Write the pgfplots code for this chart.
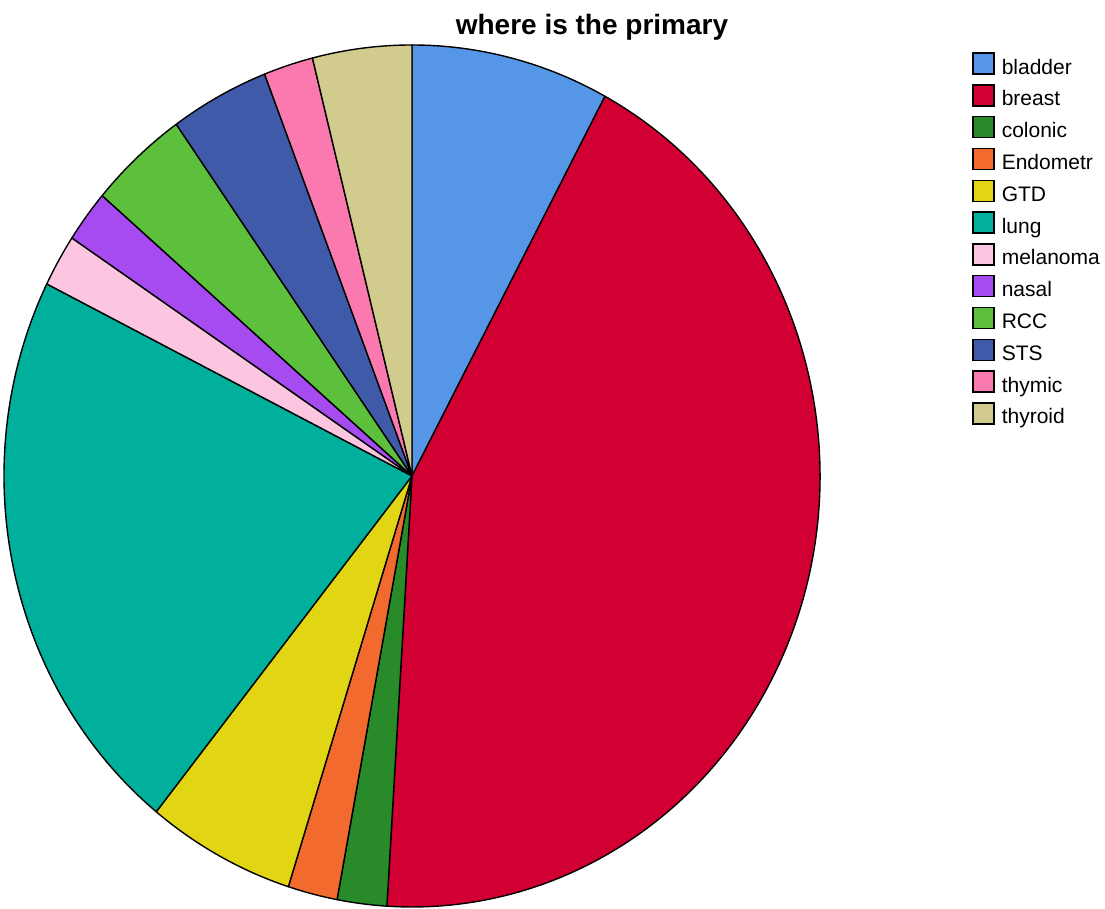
\documentclass[border=0pt]{standalone}
\usepackage{fontspec}
\setmainfont{Liberation Sans}
\usepackage{pgfplots}
\usepackage{pgfplotstable}
\pgfplotsset{compat=1.18}

\definecolor{cbladder}{RGB}{85,150,230}
\definecolor{cbreast}{RGB}{210,0,50}
\definecolor{ccolonic}{RGB}{40,138,40}
\definecolor{cendometr}{RGB}{242,106,46}
\definecolor{cgtd}{RGB}{226,214,20}
\definecolor{clung}{RGB}{0,176,156}
\definecolor{cmelanoma}{RGB}{252,198,224}
\definecolor{cnasal}{RGB}{166,75,240}
\definecolor{crcc}{RGB}{92,192,60}
\definecolor{csts}{RGB}{64,90,170}
\definecolor{cthymic}{RGB}{250,122,176}
\definecolor{cthyroid}{RGB}{210,203,142}

% counts, clockwise from 12 o'clock
\pgfplotstableread{
label    value color
bladder  4  cbladder
breast   22 cbreast
colonic  1  ccolonic
Endometr 1  cendometr
GTD      3  cgtd
lung     11 clung
melanoma 1  cmelanoma
nasal    1  cnasal
RCC      2  crcc
STS      2  csts
thymic   1  cthymic
thyroid  2  cthyroid
}\piedata

\begin{document}
\begin{tikzpicture}
\begin{axis}[
  width=552.5pt, height=454.5pt, scale only axis,
  xmin=0, xmax=1105, ymin=0, ymax=909,
  hide axis, clip=false,
  legend cell align=left,
  legend image code/.code={\draw[#1] (0pt,-2pt) rectangle (10.5pt,8.5pt);},
  legend style={at={(axis cs:972,857)}, anchor=north west, draw=none, fill=none,
    inner sep=0pt, row sep=0pt, font=\fontsize{10.5}{12}\selectfont,
    nodes={inner sep=0pt, text height=9.1pt, text depth=5pt},
    /tikz/every odd column/.append style={column sep=3.5pt}},
]
\pgfplotstablegetrowsof{\piedata}
\pgfmathtruncatemacro\pieN{\pgfplotsretval-1}
\def\pieTotal{0}
\pgfplotsforeachungrouped \i in {0,...,\pieN}{
  \pgfplotstablegetelem{\i}{value}\of\piedata
  \pgfmathsetmacro\pieTotal{\pieTotal+\pgfplotsretval}
}
\def\pieCum{0}
\pgfplotsforeachungrouped \i in {0,...,\pieN}{
  \pgfplotstablegetelem{\i}{value}\of\piedata \let\pieV\pgfplotsretval
  \pgfplotstablegetelem{\i}{color}\of\piedata \let\pieC\pgfplotsretval
  \pgfplotstablegetelem{\i}{label}\of\piedata \let\pieL\pgfplotsretval
  \pgfmathsetmacro\pieA{90-\pieCum/\pieTotal*360}
  \pgfmathsetmacro\pieB{90-(\pieCum+\pieV)/\pieTotal*360}
  \pgfmathsetmacro\pieCum{\pieCum+\pieV}
  \pgfmathsetmacro\pieX{412+408*cos(\pieA)}
  \pgfmathsetmacro\pieY{433+431*sin(\pieA)}
  \edef\pieCmd{\noexpand\filldraw[fill=\pieC, draw=black, line width=0.7pt, line join=round]
    (axis cs:412,433) -- (axis cs:\pieX,\pieY)
    arc[start angle=\pieA, end angle=\pieB, x radius=204pt, y radius=215.5pt] -- cycle;
    \noexpand\addlegendimage{fill=\pieC, draw=black, line width=0.7pt}
    \noexpand\addlegendentry{\pieL}}
  \pieCmd
}
\node[font=\bfseries\fontsize{14}{16}\selectfont, anchor=base] at (axis cs:592,874) {where is the primary};
\end{axis}
\pgfresetboundingbox
\useasboundingbox (current axis.south west) rectangle (current axis.north east);
\end{tikzpicture}
\end{document}
